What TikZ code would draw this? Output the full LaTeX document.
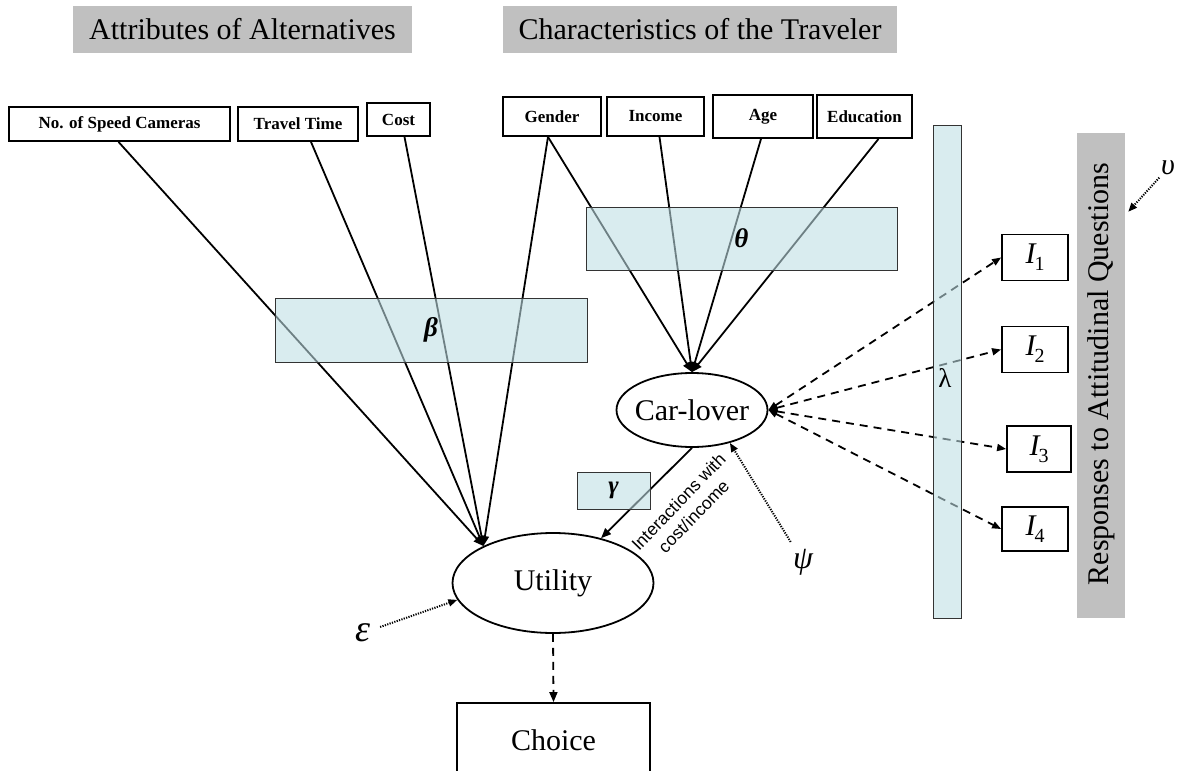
\documentclass[tikz,border=0pt]{standalone}
\usepackage{fontspec}
\setmainfont{Liberation Serif}
\newfontfamily\sansfam{Liberation Sans}
\usetikzlibrary{arrows.meta,shapes.geometric}

\definecolor{bandgray}{RGB}{192,192,192}
\definecolor{paramblue}{RGB}{190,222,228}

\newcommand\fsz[2]{\fontsize{#1}{#2}\selectfont}
\newcommand\isub[1]{I\kern-1pt\raisebox{-7pt}{\upshape\fsz{20}{20}#1}}

\begin{document}
\begin{tikzpicture}[x=1pt,y=-1pt,
  every node/.style={inner sep=0pt},
  band/.style={fill=bandgray, minimum height=47pt, font=\fsz{30}{36}},
  var/.style={draw, line width=1.8pt, font=\fsz{17}{20}\bfseries},
  param/.style={draw=black!80, line width=1pt, fill=paramblue, fill opacity=0.58,
    text opacity=1, font=\fsz{27}{32}\bfseries\itshape},
  latent/.style={ellipse, draw, line width=1.8pt, font=\fsz{30}{36}},
  ind/.style={draw, line width=1.8pt, minimum width=66pt, minimum height=46pt,
    font=\fsz{30}{36}\itshape},
  tip/.style={-{Triangle[length=10pt,width=8pt]}},
  link/.style={line width=1.8pt, tip},
  choicelink/.style={line width=1.8pt, dash pattern=on 8pt off 6pt, tip},
  meas/.style={line width=1.8pt, dash pattern=on 8pt off 6pt,
    {Triangle[length=9pt,width=7pt]}-{Triangle[length=9pt,width=7pt]}},
  noise/.style={line width=2pt, dash pattern=on 1.2pt off 1.3pt,
    -{Triangle[length=9pt,width=7pt]}},
]
\useasboundingbox (0,0) rectangle (1184,771);
\clip (0,0) rectangle (1184,771);

% group headings
\node[band, minimum width=339pt] (attr) at (242.5,29.5) {Attributes of Alternatives};
\node[band, minimum width=394pt] (chars) at (700,29.5) {Characteristics of the Traveler};

% observed variables
\node[var, minimum width=221pt, minimum height=34pt] (cams) at (119.5,124) {No. of Speed Cameras};
\node[var, minimum width=120pt, minimum height=34pt] (ttime) at (298,124) {Travel Time};
\node[var, minimum width=63pt, minimum height=33pt] (cost) at (398.5,119.5) {Cost};
\node[var, minimum width=98pt, minimum height=39pt] (gender) at (552,116.5) {Gender};
\node[var, minimum width=97pt, minimum height=39pt] (income) at (655.5,116.5) {Income};
\node[var, minimum width=100pt, minimum height=43pt] (age) at (763,116.5) {Age};
\node[var, minimum width=95pt, minimum height=43pt] (edu) at (864.5,116.5) {Education};

% latent variables and choice
\node[latent, minimum width=151pt, minimum height=74pt] (carlover) at (692,410) {\makebox[0pt]{Car-lover}};
\node[latent, minimum width=201pt, minimum height=100pt] (utility) at (553,583) {\makebox[0pt]{Utility}};
\node[draw, line width=1.8pt, minimum width=193pt, minimum height=74pt, font=\fsz{30}{36}] (choice) at (553.5,740) {Choice};

% indicators
\node[ind] (i1) at (1035,257.5) {\isub{1}};
\node[ind] (i2) at (1035,349.5) {\isub{2}};
\node[ind, minimum width=64pt] (i3) at (1039,449) {\isub{3}};
\node[ind, minimum height=44pt] (i4) at (1035,529) {\isub{4}};

% responses band
\node[fill=bandgray, minimum width=48pt, minimum height=485pt] (resp) at (1101,375.5) {};
\node[rotate=90, font=\fsz{30}{36}] (resptext) at (1101,374) {Responses to Attitudinal Questions};

% error terms
\node[font=\fsz{38}{42}\itshape] (eps) at (363,633) {ε};
\node[font=\fsz{32}{36}\itshape] (psi) at (803,562) {ψ};
\node[font=\fsz{30}{34}\itshape] (ups) at (1168,168) {υ};

% structural links
\draw[link] ([xshift=-1pt]cams.south) -- (utility.152);
\draw[link] ([xshift=13pt]ttime.south) -- (utility.152);
\draw[link] ([xshift=6pt]cost.south) -- (utility.152);
\draw[link] ([xshift=-4pt]gender.south) -- (utility.152);
\draw[link] ([xshift=-4pt]gender.south) -- (carlover.north);
\draw[link] ([xshift=4pt]income.south) -- (carlover.north);
\draw[link] ([xshift=-2pt]age.south) -- (carlover.north);
\draw[link] ([xshift=14pt]edu.south) -- (carlover.north);
\draw[link] (carlover.south) -- (utility.43);
\draw[choicelink] (utility.south) -- (choice.north);

% measurement links
\draw[meas] (carlover.east) -- (i1.west);
\draw[meas] (carlover.east) -- (i2.west);
\draw[meas] (carlover.east) -- (i3.west);
\draw[meas] (carlover.east) -- (i4.west);

% disturbances
\draw[noise, shorten <=10pt] (eps) -- (utility.190);
\draw[noise, shorten <=8pt] (psi) -- (carlover.-41);
\draw[noise, shorten <=3pt] (ups) -- ([xshift=3pt,yshift=-79pt]resp.north east);

% parameter boxes, translucent over the links
\node[param, minimum width=312pt, minimum height=64pt] (beta) at (431,330) {β};
\node[param, minimum width=311pt, minimum height=63pt] (theta) at (741.5,238.5) {θ};
\node[param, minimum width=73pt, minimum height=37pt, font=\fsz{25}{28}\bfseries\itshape] (gamma) at (613.5,490.5) {γ};
\node[param, minimum width=28pt, minimum height=493pt] (lambar) at (947,371.5) {};
\node[font=\fsz{27}{30}] (lam) at (945,378) {λ};

\node[rotate=46, align=center, font=\sansfam\fsz{17.5}{21}] (inter) at (686,509) {Interactions with\\cost/income};
\end{tikzpicture}
\end{document}
